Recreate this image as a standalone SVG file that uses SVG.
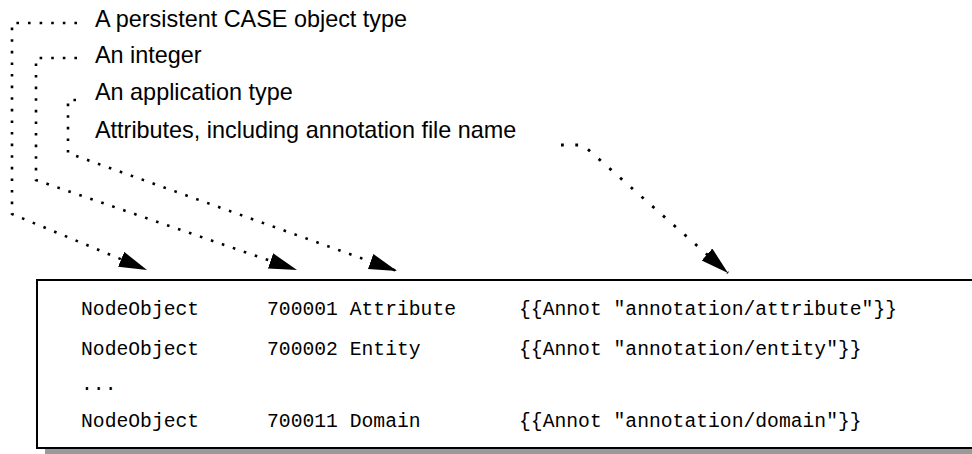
<svg xmlns="http://www.w3.org/2000/svg" width="972" height="454" viewBox="0 0 972 454">
  <style>
    .label { font-family: "Liberation Sans", Arial, sans-serif; font-size: 23.4px; fill: #000; }
    .code { font-family: "Liberation Mono", "Courier New", monospace; font-size: 19.7px; fill: #000; white-space: pre; }
    .dots { fill: none; stroke: #000; stroke-width: 2.6; stroke-dasharray: 2.6 9; }
    .dots-wide { fill: none; stroke: #000; stroke-width: 2.8; stroke-dasharray: 2.8 11.5; }
  </style>
  <defs>
    <marker id="head" markerUnits="userSpaceOnUse" markerWidth="30" markerHeight="18" refX="28" refY="8" orient="auto">
      <path d="M0,0 L28,8 L0,16 Z" fill="#000"/>
    </marker>
  </defs>

  <rect width="972" height="454" fill="#fff"/>

  <!-- explanatory labels -->
  <g id="label-object-type">
    <text class="label" x="95" y="27">A persistent CASE object type</text>
  </g>
  <g id="label-integer">
    <text class="label" x="95" y="63">An integer</text>
  </g>
  <g id="label-app-type">
    <text class="label" x="95" y="100">An application type</text>
  </g>
  <g id="label-attributes">
    <text class="label" x="95" y="138">Attributes, including annotation file name</text>
  </g>

  <!-- code listing box with drop shadow -->
  <g id="listing">
    <rect x="45" y="448" width="1000" height="6" fill="#9a9a9a"/>
    <rect x="37" y="280" width="1000" height="168" fill="#fff" stroke="#000" stroke-width="2"/>
    <text class="code" x="81" y="315">NodeObject</text>
    <text class="code" x="267" y="315">700001 Attribute</text>
    <text class="code" x="519" y="315">{{Annot "annotation/attribute"}}</text>
    <text class="code" x="81" y="355">NodeObject</text>
    <text class="code" x="267" y="355">700002 Entity</text>
    <text class="code" x="519" y="355">{{Annot "annotation/entity"}}</text>
    <text class="code" x="81" y="390">...</text>
    <text class="code" x="81" y="427">NodeObject</text>
    <text class="code" x="267" y="427">700011 Domain</text>
    <text class="code" x="519" y="427">{{Annot "annotation/domain"}}</text>
  </g>

  <!-- dotted leader lines -->
  <g id="connectors">
    <path class="dots" d="M77,23 H12 V214 L147,270" marker-end="url(#head)"/>
    <path class="dots" d="M77,58 H36 V180 L297,270" marker-end="url(#head)"/>
    <path class="dots" d="M76,100 H68 V153 L397,271" marker-end="url(#head)"/>
    <path class="dots-wide" d="M561,145 H583 L728,273" marker-end="url(#head)"/>
  </g>
</svg>
